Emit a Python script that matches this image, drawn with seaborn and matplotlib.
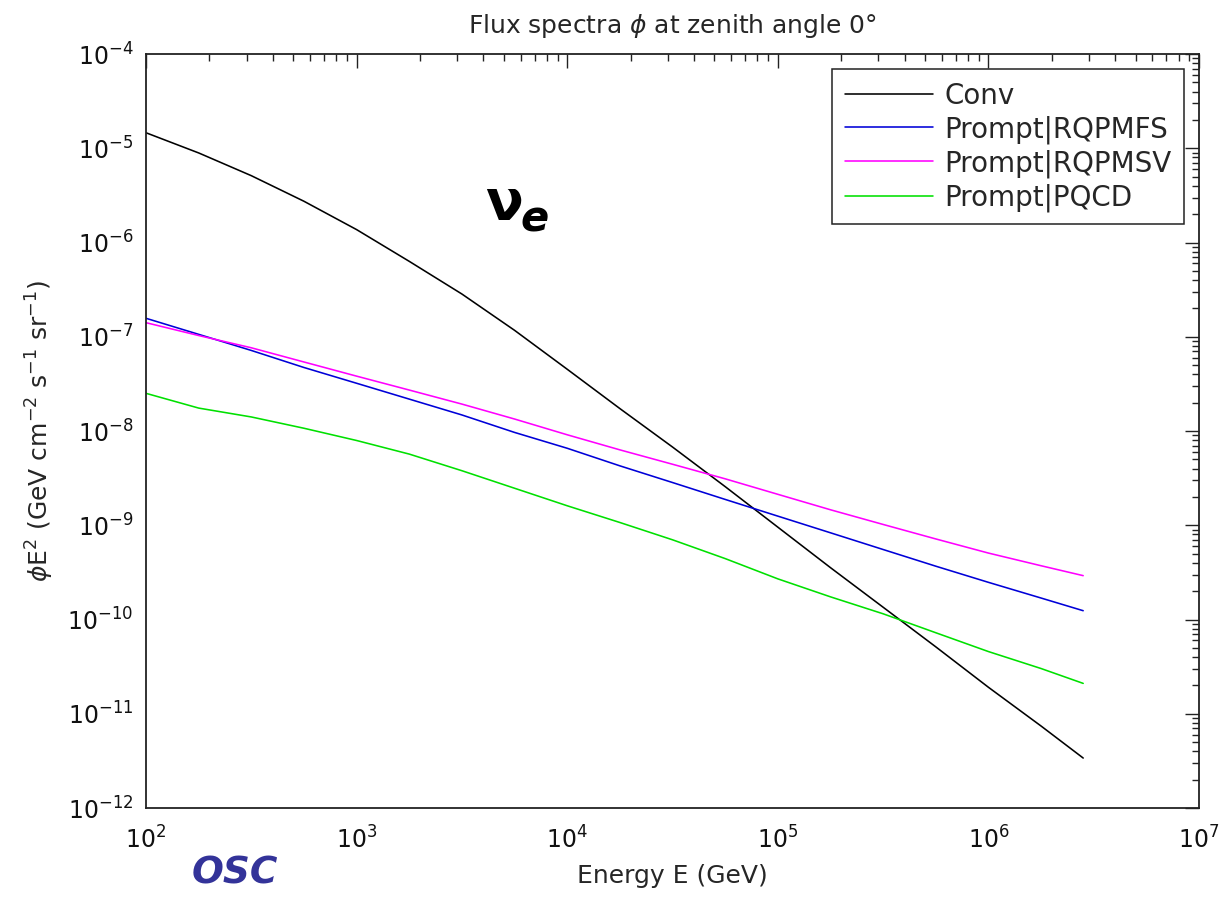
import matplotlib
matplotlib.use("Agg")
import matplotlib.pyplot as plt
import matplotlib.ticker as mticker
import seaborn as sns
import pandas as pd

# energy grid (GeV)
energy = [100, 178, 316, 562, 1000, 1778, 3162, 5623, 1e4, 17783, 31623, 56234,
          1e5, 177828, 316228, 562341, 1e6, 1778279, 2818383]

# phi*E^2 (GeV cm-2 s-1 sr-1)
conv = [1.46e-5, 8.91e-6, 5.12e-6, 2.74e-6, 1.37e-6, 6.31e-7, 2.84e-7, 1.17e-7,
        4.52e-8, 1.73e-8, 6.76e-9, 2.57e-9, 9.55e-10, 3.55e-10, 1.35e-10,
        5.13e-11, 1.91e-11, 7.41e-12, 3.39e-12]
rqpmfs = [1.57e-7, 1.06e-7, 7.16e-8, 4.72e-8, 3.21e-8, 2.18e-8, 1.48e-8, 9.66e-9,
          6.56e-9, 4.27e-9, 2.84e-9, 1.88e-9, 1.25e-9, 8.32e-10, 5.53e-10,
          3.68e-10, 2.48e-10, 1.69e-10, 1.24e-10]
rqpmsv = [1.41e-7, 1.03e-7, 7.64e-8, 5.40e-8, 3.82e-8, 2.72e-8, 1.93e-8, 1.34e-8,
          9.12e-9, 6.31e-9, 4.44e-9, 3.11e-9, 2.13e-9, 1.46e-9, 1.02e-9,
          7.16e-10, 5.07e-10, 3.72e-10, 2.92e-10]
pqcd = [2.51e-8, 1.75e-8, 1.41e-8, 1.07e-8, 7.93e-9, 5.69e-9, 3.79e-9, 2.47e-9,
        1.61e-9, 1.07e-9, 7.01e-10, 4.43e-10, 2.70e-10, 1.74e-10, 1.15e-10,
        7.24e-11, 4.57e-11, 3.02e-11, 2.10e-11]

labels = ["Conv", "Prompt|RQPMFS", "Prompt|RQPMSV", "Prompt|PQCD"]
colors = ["#000000", "#0000d8", "#ff00ff", "#00e000"]

# long format table for seaborn
frames = []
for lab, vals in zip(labels, [conv, rqpmfs, rqpmsv, pqcd]):
    frames.append(pd.DataFrame({"E": energy, "flux": vals, "series": lab}))
df = pd.concat(frames, ignore_index=True)

sns.set_style("white")
plt.rcParams["font.family"] = ["DejaVu Sans"]
plt.rcParams["mathtext.fontset"] = "dejavusans"

fig = plt.figure(figsize=(12.23, 9), dpi=100)
ax = fig.add_axes([0.1194, 0.1022, 0.8610, 0.8378])

sns.lineplot(data=df, x="E", y="flux", hue="series", hue_order=labels,
             palette=dict(zip(labels, colors)), linewidth=1.15, ax=ax,
             sort=False, estimator=None)

ax.set_xscale("log")
ax.set_yscale("log")
ax.set_xlim(1e2, 1e7)
ax.set_ylim(1e-12, 1e-4)

ax.xaxis.set_major_locator(mticker.LogLocator(base=10, numticks=20))
ax.yaxis.set_major_locator(mticker.LogLocator(base=10, numticks=20))
ax.xaxis.set_minor_locator(mticker.LogLocator(base=10, subs=range(2, 10), numticks=20))
ax.yaxis.set_minor_locator(mticker.LogLocator(base=10, subs=range(2, 10), numticks=20))
ax.xaxis.set_minor_formatter(mticker.NullFormatter())
ax.yaxis.set_minor_formatter(mticker.NullFormatter())

ax.tick_params(which="both", direction="in", top=True, right=True, width=1.0, colors="#222222")
ax.tick_params(which="major", length=10, labelsize=17, labelcolor="#111111")
ax.tick_params(axis="y", which="major", pad=9)
ax.tick_params(axis="x", which="major", pad=13)
ax.tick_params(which="minor", length=5)
for sp in ax.spines.values():
    sp.set_linewidth(1.3)
    sp.set_color("#222222")

ax.set_title(r"Flux spectra $\phi$ at zenith angle 0°", fontsize=18, pad=15)
ax.set_xlabel("Energy E (GeV)", fontsize=18, labelpad=8)
ax.set_ylabel(r"$\phi$E$^2$ (GeV cm$^{-2}$ s$^{-1}$ sr$^{-1}$)", fontsize=18, labelpad=8)

leg = ax.legend(loc="upper right", bbox_to_anchor=(0.986, 0.98), fontsize=20,
                frameon=True, fancybox=False, framealpha=1, edgecolor="#222222",
                handlelength=3.2, handletextpad=0.4, labelspacing=0.2,
                borderpad=0.45, borderaxespad=0)
leg.get_frame().set_linewidth(1.1)

# nu_e marker in bold, subscript drawn as its own text
ax.text(0.322, 0.80, "ν", transform=ax.transAxes, fontsize=40,
        fontweight="bold", color="black", ha="left", va="center")
ax.text(0.356, 0.78, "e", transform=ax.transAxes, fontsize=30,
        fontweight="bold", fontstyle="italic", color="black", ha="left", va="center")

fig.text(0.192, 0.03, "OSC", fontsize=27, fontweight="bold", fontstyle="italic",
         color="#333399", ha="center", va="center")

fig.savefig("out.png", dpi=100)
